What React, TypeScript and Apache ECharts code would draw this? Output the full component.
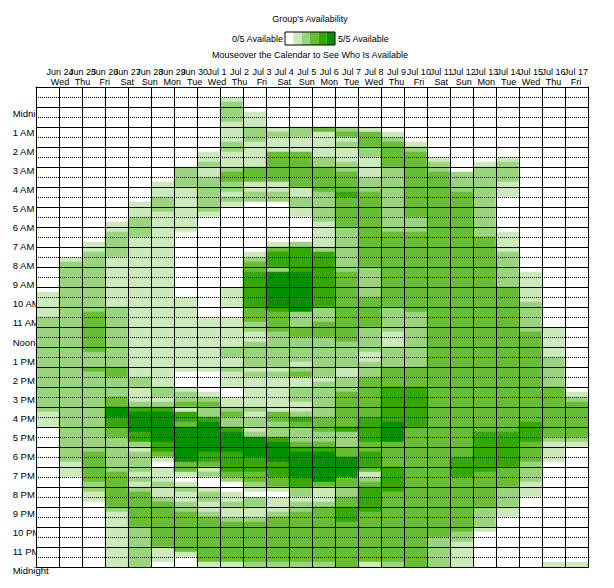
import React, { useEffect, useRef } from 'react';
import * as echarts from 'echarts';

// ---- categories ----
const DATES = [
  'Jun 24', 'Jun 25', 'Jun 26', 'Jun 27', 'Jun 28', 'Jun 29', 'Jun 30',
  'Jul 1', 'Jul 2', 'Jul 3', 'Jul 4', 'Jul 5', 'Jul 6', 'Jul 7', 'Jul 8',
  'Jul 9', 'Jul 10', 'Jul 11', 'Jul 12', 'Jul 13', 'Jul 14', 'Jul 15', 'Jul 16', 'Jul 17',
];
const WEEKDAYS = [
  'Wed', 'Thu', 'Fri', 'Sat', 'Sun', 'Mon', 'Tue',
  'Wed', 'Thu', 'Fri', 'Sat', 'Sun', 'Mon', 'Tue', 'Wed',
  'Thu', 'Fri', 'Sat', 'Sun', 'Mon', 'Tue', 'Wed', 'Thu', 'Fri',
];
const HOUR_LABELS = [
  'Midnight', '1 AM', '2 AM', '3 AM', '4 AM', '5 AM', '6 AM', '7 AM', '8 AM', '9 AM', '10 AM', '11 AM',
  'Noon', '1 PM', '2 PM', '3 PM', '4 PM', '5 PM', '6 PM', '7 PM', '8 PM', '9 PM', '10 PM', '11 PM', 'Midnight',
];
const SLOTS_PER_DAY = 96; // quarter-hour slots, first hour row is the 11 PM of the previous day
const GROUP_SIZE = 5;

// colour per number of available people (0..5)
const LEVEL_COLORS = ['#ffffff', '#cce9bb', '#9ad47d', '#67be36', '#35a805', '#039100'];

// ---- availability per day: run-length "level x count" over the 96 quarter-hour slots ----
const AVAILABILITY_RUNS = [
  '0x41 1x5 2x19 1x3 0x28',
  '0x34 1x1 2x40 1x3 0x18',
  '0x31 1x2 2x12 3x8 2x3 3x1 2x16 3x6 2x2 1x2 0x13',
  '0x27 1x2 2x5 1x10 2x12 3x2 2x4 3x2 5x2 4x2 3x2 2x7 3x7 2x1 1x11',
  '0x23 1x3 2x4 1x28 2x2 1x3 2x1 4x1 5x4 4x2 2x1 1x1 2x4 1x1 2x1 1x1 2x1 3x7 2x8',
  '0x19 1x3 2x3 1x35 2x2 1x1 2x1 4x1 5x6 4x2 3x1 1x1 0x1 1x3 2x1 1x2 2x1 3x9 1x3 0x1',
  '0x16 2x4 1x9 0x13 1x15 0x3 1x1 2x2 3x1 1x1 4x2 3x1 5x7 3x2 1x1 0x1 1x1 2x1 1x2 2x2 3x8 1x1 0x2',
  '0x13 1x2 2x1 1x2 2x7 1x1 0x20 1x11 0x4 1x1 2x1 3x1 2x2 4x1 5x6 4x2 3x1 1x1 2x1 0x2 1x1 2x2 1x2 2x1 3x9 1x1',
  '0x2 1x1 2x4 1x4 2x2 1x3 2x1 3x2 2x2 1x1 2x1 1x1 0x16 1x4 0x2 1x6 2x2 1x2 2x1 1x3 0x2 1x2 2x1 3x1 2x2 4x1 5x4 4x4 3x1 2x1 0x2 1x2 2x1 1x2 2x1 3x8 1x1',
  '0x5 1x3 2x3 1x5 3x3 1x2 2x2 0x10 1x1 2x1 3x2 4x7 3x3 2x2 1x2 2x5 1x1 2x1 1x6 2x1 1x1 2x2 1x1 2x1 5x4 4x3 3x2 2x1 1x1 0x1 2x2 1x2 2x1 3x8 2x1',
  '0x8 1x1 2x1 1x3 3x6 1x2 2x2 0x8 1x1 3x1 4x3 2x1 5x7 4x1 3x4 2x7 1x1 2x1 1x7 3x2 2x3 4x1 5x4 4x3 3x2 1x1 0x1 1x3 2x1 3x9 2x1',
  '0x8 2x2 1x3 3x7 1x2 2x2 1x2 0x5 2x1 4x5 5x8 2x3 3x2 2x5 1x1 2x1 3x1 1x2 2x3 1x2 2x1 4x1 3x1 2x3 3x1 4x1 5x5 4x2 2x2 1x1 2x2 3x10 2x1',
  '0x8 3x1 1x5 2x2 3x5 2x6 1x5 2x1 4x11 2x3 3x3 2x8 1x1 2x7 3x3 2x2 3x1 4x1 5x6 3x1 1x3 2x1 3x11 2x1',
  '0x8 2x1 3x1 1x1 2x1 1x3 2x2 3x4 4x1 3x6 2x9 3x14 2x5 1x2 2x3 3x7 4x1 2x3 3x2 5x4 3x2 2x2 3x2 4x3 3x9',
  '0x8 1x1 3x3 2x2 1x4 2x3 3x15 2x6 3x6 2x5 1x2 2x3 3x8 4x5 3x2 4x3 3x1 1x1 2x1 3x1 4x5 3x10 1x1',
  '0x9 1x1 2x1 3x5 2x13 3x15 2x5 1x3 2x4 3x4 4x7 5x4 3x5 4x5 3x14 2x1',
  '0x11 1x1 2x1 3x13 2x3 3x16 2x11 3x4 4x8 3x28',
  '0x14 1x1 2x2 3x73 2x6',
  '0x17 2x4 3x53 4x4 3x11 2x2 1x5',
  '0x15 1x1 2x14 3x39 4x8 3x7 2x4 1x1 0x7',
  '0x14 1x1 2x4 1x3 0x7 1x4 2x7 3x29 4x7 3x4 2x4 1x2 0x10',
  '0x37 1x6 2x6 3x18 4x4 3x4 2x4 1x3 0x14',
  '0x48 1x6 2x6 3x10 2x1 1x4 0x20 1x1',
  '0x61 1x1 2x1 3x7 2x1 1x1 0x23 1x1',
];

const FONT = '"Liberation Sans", Arial, Helvetica, sans-serif';

function decodeRuns(spec: string): number[] {
  const out: number[] = [];
  spec.trim().split(/\s+/).forEach((tok) => {
    const [v, n] = tok.split('x').map(Number);
    for (let i = 0; i < n; i++) out.push(v);
  });
  while (out.length < SLOTS_PER_DAY) out.push(0);
  return out.slice(0, SLOTS_PER_DAY);
}

export default function App() {
  const ref = useRef<HTMLDivElement>(null);

  useEffect(() => {
    if (!ref.current) return;
    const chart = echarts.init(ref.current, null, { renderer: 'svg' });

    const slots = Array.from({ length: SLOTS_PER_DAY }, (_, i) => `slot ${i}`);
    const data: number[][] = [];
    AVAILABILITY_RUNS.forEach((spec, c) => {
      decodeRuns(spec).forEach((v, s) => data.push([c, s, v]));
    });

    const black = { color: '#000', width: 1 };
    const legendX = 285;
    const legendW = 50;
    const cellW = legendW / LEVEL_COLORS.length;

    const option: any = {
      animation: false,
      backgroundColor: '#ffffff',
      grid: [
        { left: 36, top: 87, width: 552, height: 480, show: false },
        { left: 48.8, top: 104, width: 538.3, height: 476, show: false },
      ],
      xAxis: [
        {
          type: 'category', gridIndex: 0, data: DATES, position: 'bottom', z: 10,
          axisLine: { show: true, lineStyle: black }, axisTick: { show: false }, axisLabel: { show: false },
          splitLine: { show: true, interval: 0, lineStyle: black },
        },
        {
          type: 'category', gridIndex: 0, data: DATES, position: 'top', z: 10,
          axisLine: { show: true, lineStyle: black }, axisTick: { show: false }, axisLabel: { show: false },
          splitLine: { show: false },
        },
        {
          type: 'category', gridIndex: 1, position: 'top', z: 0,
          data: DATES.map((d, i) => `${d}\n${WEEKDAYS[i]}`),
          axisLine: { show: false }, axisTick: { show: false }, splitLine: { show: false },
          axisLabel: { interval: 0, margin: 17.3, fontSize: 9, lineHeight: 10, color: '#000', fontFamily: FONT },
        },
      ],
      yAxis: [
        {
          type: 'category', gridIndex: 0, data: slots, inverse: true, position: 'left', z: 10,
          axisLine: { show: true, lineStyle: black }, axisTick: { show: false }, axisLabel: { show: false },
          splitLine: { show: true, interval: (i: number) => i % 4 === 0, lineStyle: black },
        },
        {
          type: 'category', gridIndex: 0, data: slots, inverse: true, position: 'right', z: 10,
          axisLine: { show: true, lineStyle: black }, axisTick: { show: false }, axisLabel: { show: false },
          splitLine: { show: true, interval: (i: number) => i % 4 === 2, lineStyle: { color: '#000', width: 1, type: [1, 1] } },
        },
        {
          type: 'category', gridIndex: 1, data: HOUR_LABELS, inverse: true, position: 'left', z: 0,
          axisLine: { show: false }, axisTick: { show: false }, splitLine: { show: false },
          axisLabel: { interval: 0, align: 'left', margin: 36.1, fontSize: 9.5, color: '#000', fontFamily: FONT },
        },
      ],
      visualMap: {
        type: 'piecewise', show: false, dimension: 2, seriesIndex: 0,
        pieces: LEVEL_COLORS.map((color, v) => ({ value: v, color })),
      },
      series: [
        {
          type: 'heatmap', xAxisIndex: 0, yAxisIndex: 0, data, progressive: 0, silent: true,
          emphasis: { disabled: true },
        },
      ],
      graphic: [
        { type: 'text', x: 310, y: 19, silent: true,
          style: { text: "Group's Availability", align: 'center', verticalAlign: 'middle', fill: '#000', font: `9px ${FONT}` } },
        { type: 'text', x: legendX - 2, y: 38.5, silent: true,
          style: { text: `0/${GROUP_SIZE} Available`, align: 'right', verticalAlign: 'middle', fill: '#000', font: `9px ${FONT}` } },
        ...LEVEL_COLORS.map((color, i) => ({
          type: 'rect', silent: true,
          shape: { x: legendX + i * cellW, y: 32, width: cellW, height: 13 },
          style: { fill: color },
        })),
        { type: 'rect', silent: true, shape: { x: legendX, y: 32, width: legendW, height: 13 },
          style: { fill: 'none', stroke: '#000', lineWidth: 1 } },
        { type: 'text', x: legendX + legendW + 3, y: 38.5, silent: true,
          style: { text: `${GROUP_SIZE}/${GROUP_SIZE} Available`, align: 'left', verticalAlign: 'middle', fill: '#000', font: `9px ${FONT}` } },
        { type: 'text', x: 310, y: 54.5, silent: true,
          style: { text: 'Mouseover the Calendar to See Who Is Available', align: 'center', verticalAlign: 'middle', fill: '#000', font: `9px ${FONT}` } },
      ],
    };

    chart.setOption(option);
    return () => chart.dispose();
  }, []);

  return (
    <div
      ref={ref}
      style={{ position: 'fixed', left: 0, top: 0, width: 614, height: 588, background: '#fff' }}
    />
  );
}
